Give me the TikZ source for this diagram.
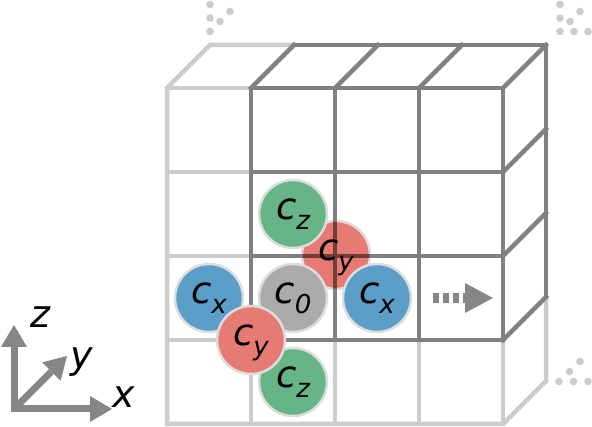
\documentclass[tikz,border=0pt]{standalone}
\usepackage{fontspec}
\setmainfont{DejaVu Sans}
\usetikzlibrary{arrows.meta}

\definecolor{gridDark}{HTML}{808080}
\definecolor{gridLight}{HTML}{CCCCCC}
\definecolor{lineOnRed}{HTML}{733E3A}
\definecolor{rimGrey}{HTML}{DDDDDD}
\definecolor{siteGrey}{HTML}{ABABAB}
\definecolor{siteRed}{HTML}{E67B73}
\definecolor{siteGreen}{HTML}{67B587}
\definecolor{siteBlue}{HTML}{5B9EC8}
\definecolor{arrowGrey}{HTML}{868686}

% letter with a lowered, smaller subscript
\newcommand{\sitelbl}[2]{#1\raisebox{-10pt}{\fontsize{26}{26}\selectfont #2}}

\begin{document}
\begin{tikzpicture}[x=1pt,y=-1pt,
    lightline/.style={draw=gridLight,line width=4.5pt,line cap=rect,line join=miter},
    darkline/.style={draw=gridDark,line width=4.5pt,line cap=rect,line join=miter},
    lbl/.style={inner sep=0pt,text height=22pt,text depth=10pt,
      font=\fontsize{37}{37}\selectfont\itshape},
    site/.style={lbl,circle,minimum size=68pt,draw=rimGrey,line width=2.5pt},
    axlabel/.style={inner sep=0pt,font=\fontsize{38}{38}\selectfont\itshape},
    axis/.style={draw=arrowGrey,line width=7pt},
    dot/.style={fill=gridLight},
  ]
  \path[use as bounding box] (0,0) rectangle (592,427);

  % light part of the grid
  \draw[lightline] (167,424) -- (167,88) -- (210,45) -- (294,45);
  \draw[lightline] (167,424) -- (503,424) -- (546,381) -- (546,297);
  \foreach \y in {88,172,256,340}
    \draw[lightline] (167,\y) -- (251,\y);
  \foreach \x in {251,335,419,503}
    \draw[lightline] (\x,340) -- (\x,424);

  % site behind the grid
  \node[site,fill=siteRed] (cyb) at (336,255) {};

  % dark block
  \foreach \y in {88,172,256,340}
    \draw[darkline] (251,\y) -- (503,\y);
  \foreach \x in {251,335,419,503} {
    \draw[darkline] (\x,88) -- (\x,340);
    \draw[darkline] (\x,88) -- (\x+43,45);
  }
  \foreach \y in {172,256,340}
    \draw[darkline] (503,\y) -- (546,\y-43);
  \draw[darkline] (294,45) -- (546,45) -- (546,297);
  \begin{scope}
    \clip (cyb.center) circle (33.5);
    \draw[darkline,draw=lineOnRed] (335,200) -- (335,320) (280,256) -- (400,256);
  \end{scope}
  \node[lbl] (cybl) at (cyb.center) {\sitelbl{c}{y}};

  % the other sites
  \node[site,fill=siteGreen] (czt) at (293,214) {\sitelbl{c}{z}};
  \node[site,fill=siteGrey] (c0) at (293,298) {\sitelbl{c}{0}};
  \node[site,fill=siteBlue] (cxr) at (377,298) {\sitelbl{c}{x}};
  \node[site,fill=siteBlue] (cxl) at (209,298) {\sitelbl{c}{x}};
  \node[site,fill=siteGreen] (czb) at (293,382) {\sitelbl{c}{z}};
  \node[site,fill=siteRed] (cyf) at (251,340) {\sitelbl{c}{y}};

  % shift arrow
  \coordinate (sh0) at (433,298);
  \coordinate (sh1) at (493,298);
  \draw[draw=arrowGrey,line width=10pt,dash pattern=on 6pt off 4pt,
    -{Triangle[length=28pt,width=30pt,line width=0pt]}] (sh0) -- (sh1);

  % dots
  \foreach \p in {(210,31.5),(210,18),(210,4.5),(220,21.5),(230,11.5),
                  (560,31.5),(560,18),(560,4.5),(570,21.5),(580,11.5),(574,31.5),(588,31.5),
                  (559,381.5),(569.5,371.5),(580,361.5),(573.5,381.5),(588,381.5)}
    \fill[dot] \p circle (3.8);

  % axes
  \coordinate (O) at (14,409);
  \coordinate (xtip) at (112,409);
  \coordinate (ztip) at (14,325);
  \coordinate (ytip) at (67,356);
  \draw[axis,{Triangle[length=22pt,width=26pt,line width=0pt]}-{Triangle[length=22pt,width=26pt,line width=0pt]}]
    (ztip) -- (O) -- (xtip);
  \draw[axis,-{Triangle[length=22pt,width=26pt,line width=0pt]}] (O) -- (ytip);
  \node[axlabel] (zl) at (40,317) {z};
  \node[axlabel] (yl) at (82,362) {y};
  \node[axlabel] (xl) at (124,397) {x};
\end{tikzpicture}
\end{document}
